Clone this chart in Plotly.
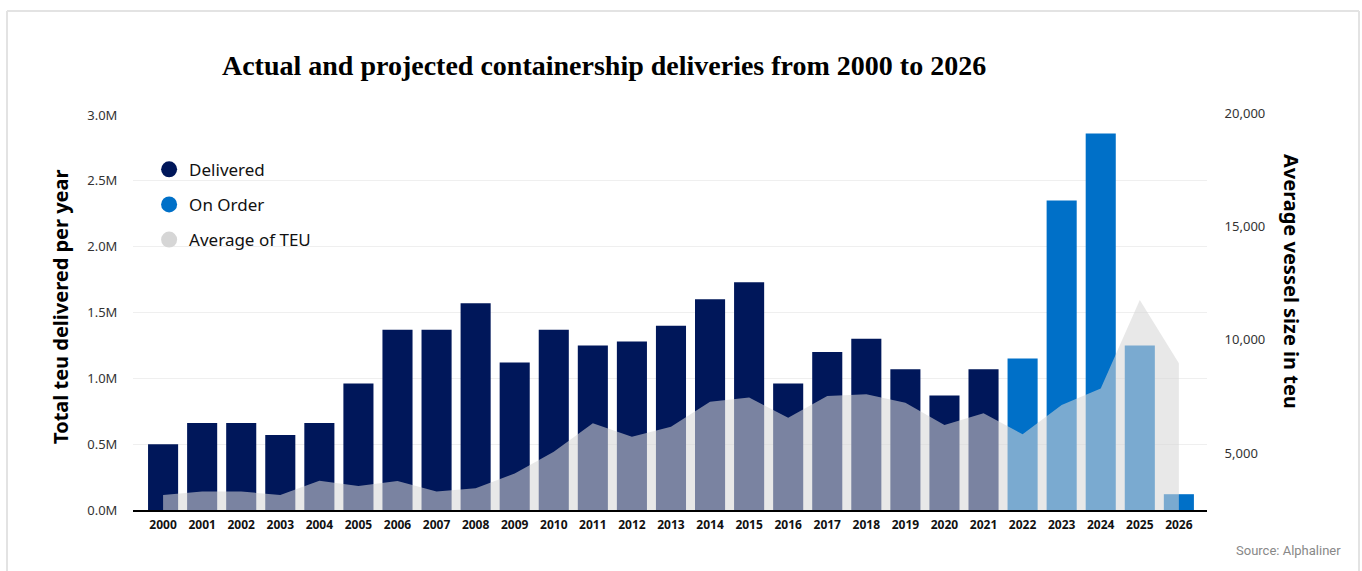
import plotly.graph_objects as go

years = ["2000", "2001", "2002", "2003", "2004", "2005", "2006", "2007", "2008",
         "2009", "2010", "2011", "2012", "2013", "2014", "2015", "2016", "2017",
         "2018", "2019", "2020", "2021", "2022", "2023", "2024", "2025", "2026"]

# Total TEU delivered per year (millions)
delivered = [0.50, 0.66, 0.66, 0.57, 0.66, 0.96, 1.37, 1.37, 1.57, 1.12, 1.37,
             1.25, 1.28, 1.40, 1.60, 1.73, 0.96, 1.20, 1.30, 1.07, 0.87, 1.07,
             None, None, None, None, None]
on_order = [None] * 22 + [1.15, 2.35, 2.86, 1.25, 0.12]

# Average vessel size (TEU)
avg_teu = [3150, 3300, 3300, 3150, 3780, 3550, 3760, 3300, 3440, 4100, 5060,
           6310, 5720, 6160, 7260, 7450, 6560, 7510, 7590, 7220, 6240, 6750,
           5830, 7120, 7850, 11750, 8960]

left_tickvals = [0, 0.5, 1.0, 1.5, 2.0, 2.5, 3.0]
left_ticktext = ["0.0M", "0.5M", "1.0M", "1.5M", "2.0M", "2.5M", "3.0M"]
grid_vals = [0.5, 1.0, 1.5, 2.0, 2.5]
right_tickvals = [5000, 10000, 15000, 20000]
right_ticktext = ["5,000", "10,000", "15,000", "20,000"]

NAVY = "#00175A"
BLUE = "#0070C8"
GREY = "#D6D6D6"
AREA = "rgba(214,214,214,0.57)"

fig = go.Figure()
fig.add_trace(go.Scatter(x=[None], y=[None], yaxis="y3", showlegend=False, hoverinfo="skip"))
fig.add_trace(go.Bar(x=years, y=delivered, marker=dict(color=NAVY, line=dict(width=0)),
                     width=0.77, showlegend=False, name="Delivered"))
fig.add_trace(go.Bar(x=years, y=on_order, marker=dict(color=BLUE, line=dict(width=0)),
                     width=0.77, showlegend=False, name="On Order"))
fig.add_trace(go.Scatter(x=years, y=avg_teu, yaxis="y2", mode="lines",
                         line=dict(width=0, color=AREA), fill="tozeroy",
                         fillcolor=AREA, showlegend=False, name="Average of TEU"))

# legend entries (circle symbols)
for nm, col, grp in [("Delivered", NAVY, "a"), ("On Order", BLUE, "b"), ("Average of TEU", GREY, "c")]:
    fig.add_trace(go.Scatter(x=[None], y=[None], mode="markers", name=nm, legendgroup=grp,
                             marker=dict(color=col, size=18, symbol="circle")))

fig.update_layout(
    width=1362, height=571,
    margin=dict(l=133, r=155, t=112, b=61),
    paper_bgcolor="white", plot_bgcolor="white",
    barmode="overlay",
    font=dict(family="Noto Sans", color="#222"),
    title=dict(text="<b>Actual and projected containership deliveries from 2000 to 2026</b>",
               font=dict(family="Liberation Serif", size=28, color="#000"),
               x=0.4435, xanchor="center", y=0.885, yanchor="middle"),
    xaxis=dict(type="category", range=[-0.77, 26.72], showgrid=False,
               showline=True, linecolor="#000", linewidth=2, layer="below traces",
               tickfont=dict(family="Noto Sans", size=12, color="#111", weight="bold"),
               ticks="outside", ticklen=3, tickcolor="rgba(0,0,0,0)", tickangle=0),
    yaxis=dict(range=[0, 3.023], tickvals=left_tickvals, ticktext=left_ticktext,
               showgrid=False, zeroline=False,
               showline=False, ticks="outside", ticklen=12, tickcolor="rgba(0,0,0,0)",
               tickfont=dict(family="Noto Sans", size=13, color="#333")),
    yaxis3=dict(range=[0, 3.023], overlaying="y", tickvals=grid_vals, showticklabels=False,
                showgrid=True, gridcolor="#EFEFEF", gridwidth=1, zeroline=False, showline=False,
                ticks=""),
    yaxis2=dict(range=[2486, 20044], overlaying="y", side="right", showgrid=False,
                zeroline=False, showline=False, tickvals=right_tickvals, ticktext=right_ticktext,
                ticks="outside", ticklen=14, tickcolor="rgba(0,0,0,0)",
                tickfont=dict(family="Noto Sans", size=13, color="#333")),
    legend=dict(x=0.015, y=0.90, xanchor="left", yanchor="top", bgcolor="rgba(0,0,0,0)",
                font=dict(family="Noto Sans", size=17, color="#111"), tracegroupgap=10,
                itemsizing="trace"),
    annotations=[
        dict(text="<b>Total teu delivered per year</b>", xref="paper", yref="paper",
             x=(60 - 133) / 1074, y=(510 - 307) / 398, textangle=-90, showarrow=False,
             font=dict(family="Noto Sans", size=20, color="#000"), xanchor="center", yanchor="middle"),
        dict(text="<b>Average vessel size in teu</b>", xref="paper", yref="paper",
             x=(1292 - 133) / 1074, y=(510 - 281) / 398, textangle=90, showarrow=False,
             font=dict(family="Noto Sans", size=20, color="#000"), xanchor="center", yanchor="middle"),
        dict(text="Source: Alphaliner", xref="paper", yref="paper",
             x=(1343 - 133) / 1074, y=(510 - 550) / 398, xanchor="right", yanchor="middle",
             showarrow=False, font=dict(family="Roboto", size=13, color="#888")),
    ],
    shapes=[
        dict(type="line", xref="paper", yref="paper", x0=(7 - 133) / 1074, x1=(1359 - 133) / 1074,
             y0=(510 - 11) / 398, y1=(510 - 11) / 398, line=dict(color="#E3E3E3", width=2)),
        dict(type="line", xref="paper", yref="paper", x0=(7 - 133) / 1074, x1=(7 - 133) / 1074,
             y0=(510 - 11) / 398, y1=(510 - 575) / 398, line=dict(color="#E3E3E3", width=2)),
        dict(type="line", xref="paper", yref="paper", x0=(1359 - 133) / 1074, x1=(1359 - 133) / 1074,
             y0=(510 - 11) / 398, y1=(510 - 575) / 398, line=dict(color="#E3E3E3", width=2)),
    ],
)

fig.write_html("out.html", config={"displayModeBar": False},
               post_script="document.body.style.margin='0';document.body.style.overflow='hidden';")
